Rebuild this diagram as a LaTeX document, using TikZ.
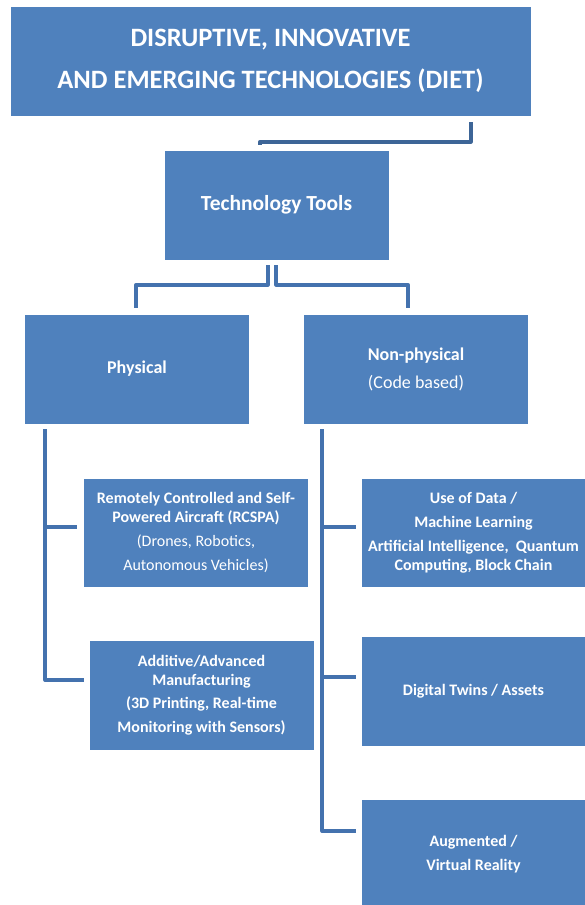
\documentclass[tikz,border=0pt]{standalone}
\usepackage{fontspec}
\setmainfont{Carlito}
\definecolor{boxblue}{HTML}{4F81BD}
\definecolor{linkblue}{HTML}{4472AE}
\definecolor{topblue}{HTML}{3D6597}
\begin{document}
\begin{tikzpicture}[x=1pt, y=-1pt,
        box/.style={rectangle, fill=boxblue, draw=white, line width=0.6pt,
            text=white, align=center, inner sep=0pt,
            minimum width=225pt, minimum height=110pt},
        link/.style={draw=linkblue, line width=3.6pt, line join=round},
        toplink/.style={draw=topblue, line width=3.6pt, line join=round},
        bigfont/.style={font=\fontsize{26.5}{30}\selectfont\bfseries},
        midfont/.style={font=\fontsize{18}{21}\selectfont},
        smallfont/.style={font=\fontsize{16}{18.5}\selectfont}]
    \useasboundingbox (0,0) rectangle (584,905);
    % top of the tree
    \node[box, bigfont, minimum width=521pt] (diet) at (270.5,61)
        {DISRUPTIVE, INNOVATIVE\\[12pt] AND EMERGING TECHNOLOGIES (DIET)};
    \node[box, font=\fontsize{21.5}{25}\selectfont\bfseries] (tools) at (276.5,205)
        {Technology Tools};
    % the two kinds
    \node[box, midfont] (phys) at (137,369) {\bfseries Physical};
    \node[box, midfont] (nonphys) at (416,369)
        {\bfseries Non-physical\\[7pt] (Code based)};
    % physical side
    \node[box, smallfont, minimum height=109pt] (rcspa) at (196,532.5)
        {\bfseries Remotely Controlled and Self-\\
         \bfseries Powered Aircraft (RCSPA)\\[6pt]
         (Drones, Robotics,\\[5pt] Autonomous Vehicles)};
    \node[box, smallfont] (additive) at (201.5,695)
        {\bfseries Additive/Advanced\\ \bfseries Manufacturing\\[5pt]
         \bfseries (3D Printing, Real-time\\[5pt]
         \bfseries Monitoring with Sensors)};
    % non-physical side
    \node[box, smallfont, minimum height=109pt] (data) at (473.5,532.5)
        {\bfseries Use of Data /\\[5pt] \bfseries Machine Learning\\[6pt]
         \bfseries Artificial Intelligence,\ \ Quantum\\
         \bfseries Computing, Block Chain};
    \node[box, smallfont] (twins) at (473.5,691) {\bfseries Digital Twins / Assets};
    \node[box, smallfont] (augmented) at (473.5,854)
        {\bfseries Augmented /\\[6pt] \bfseries Virtual Reality};

    % connectors
    \coordinate (dietout) at (471,122);
    \draw[toplink] (dietout) |- ([xshift=-16.5,yshift=8]tools.north)
        -- ([xshift=-16.5,yshift=5]tools.north);
    \draw[link] ([xshift=-8.5,yshift=-5]tools.south)
        |- ([xshift=-1,yshift=29]phys.north) -- ([xshift=-1,yshift=6]phys.north);
    \draw[link] ([xshift=-0.5,yshift=-5]tools.south)
        |- ([xshift=-8,yshift=29]nonphys.north) -- ([xshift=-8,yshift=6]nonphys.north);

    \coordinate (ptrunk) at ([xshift=21,yshift=-5]phys.south west);
    \draw[link] (ptrunk) |- ([xshift=-5,yshift=15]additive.west);
    \draw[link] ([yshift=5.5]rcspa.west -| ptrunk) -- ([xshift=-6,yshift=5.5]rcspa.west);

    \coordinate (ntrunk) at ([xshift=19,yshift=-5]nonphys.south west);
    \draw[link] (ntrunk) |- ([xshift=-5,yshift=23]augmented.west);
    \draw[link] ([yshift=5.5]data.west -| ntrunk) -- ([xshift=-5,yshift=5.5]data.west);
    \draw[link] ([yshift=14]twins.west -| ntrunk) -- ([xshift=-5,yshift=14]twins.west);
\end{tikzpicture}
\end{document}
